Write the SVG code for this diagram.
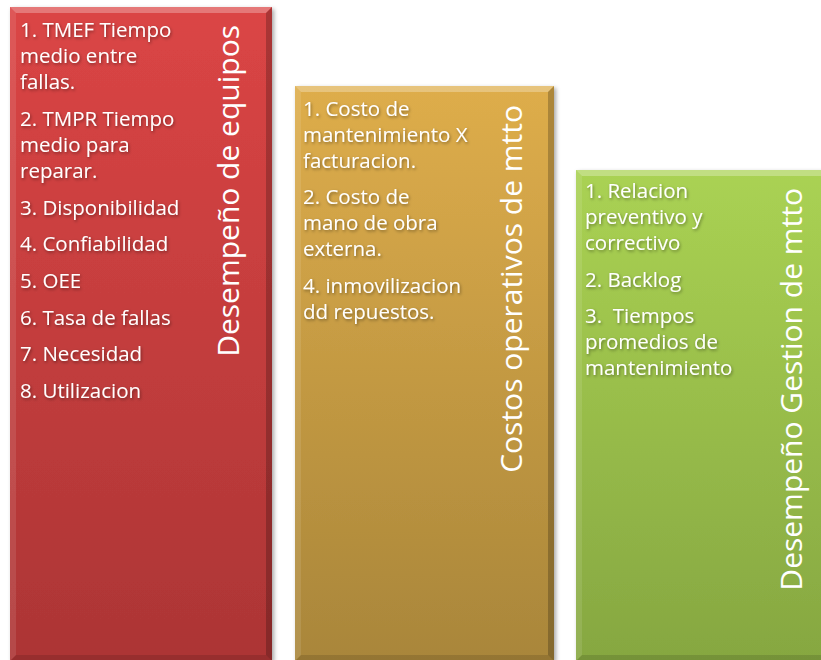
<svg xmlns="http://www.w3.org/2000/svg" width="821" height="660" viewBox="0 0 821 660">
<defs>
<linearGradient id="gRed" x1="0" y1="0" x2="0" y2="1"><stop offset="0" stop-color="#db4545"/><stop offset="1" stop-color="#ac3535"/></linearGradient>
<linearGradient id="gGold" x1="0" y1="0" x2="0" y2="1"><stop offset="0" stop-color="#dead4b"/><stop offset="1" stop-color="#a9863a"/></linearGradient>
<linearGradient id="gGreen" x1="0" y1="0" x2="0" y2="1"><stop offset="0" stop-color="#aad253"/><stop offset="1" stop-color="#86a741"/></linearGradient>
<filter id="barShadow" x="-10%" y="-5%" width="125%" height="115%">
<feDropShadow dx="2" dy="2" stdDeviation="2" flood-color="#000" flood-opacity="0.35"/>
</filter>
<filter id="txtShadow" x="-10%" y="-10%" width="130%" height="130%">
<feDropShadow dx="1" dy="1.5" stdDeviation="1.5" flood-color="#000" flood-opacity="0.4"/>
</filter>
</defs>
<style>
.list{font-family:"Open Sans","Liberation Sans",sans-serif;font-size:20.5px;fill:#ffffff;}
.title{font-family:"Open Sans","Liberation Sans",sans-serif;font-size:30px;fill:#ffffff;text-anchor:end;}
.bvT{fill:#ffffff;fill-opacity:0.28;}
.bvL{fill:#ffffff;fill-opacity:0.1;}
.bvR{fill:#000000;fill-opacity:0.22;}
.bvB{fill:#000000;fill-opacity:0.12;}
</style>
<rect x="0" y="0" width="821" height="660" fill="#ffffff"/>

<g id="node-equipos">
<rect x="10" y="7" width="262" height="654" fill="url(#gRed)" filter="url(#barShadow)"/>
<polygon class="bvT" points="10,7 272,7 266,13 16,13"/>
<polygon class="bvL" points="10,7 16,13 16,655 10,661"/>
<polygon class="bvR" points="272,7 272,661 266,655 266,13"/>
<polygon class="bvB" points="10,661 16,655 266,655 272,661"/>
<text class="list" filter="url(#txtShadow)">
<tspan x="20" y="37">1. TMEF Tiempo</tspan>
<tspan x="20" y="63">medio entre</tspan>
<tspan x="20" y="89">fallas.</tspan>
<tspan x="20" y="126">2. TMPR Tiempo</tspan>
<tspan x="20" y="152">medio para</tspan>
<tspan x="20" y="178">reparar.</tspan>
<tspan x="20" y="215">3. Disponibilidad</tspan>
<tspan x="20" y="251">4. Confiabilidad</tspan>
<tspan x="20" y="288">5. OEE</tspan>
<tspan x="20" y="325">6. Tasa de fallas</tspan>
<tspan x="20" y="361">7. Necesidad</tspan>
<tspan x="20" y="398">8. Utilizacion</tspan>
</text>
<text class="title" transform="translate(239.3,25) rotate(-90)">Desempeño de equipos</text>
</g>

<g id="node-costos">
<rect x="295" y="86" width="259" height="575" fill="url(#gGold)" filter="url(#barShadow)"/>
<polygon class="bvT" points="295,86 554,86 548,92 301,92"/>
<polygon class="bvL" points="295,86 301,92 301,655 295,661"/>
<polygon class="bvR" points="554,86 554,661 548,655 548,92"/>
<polygon class="bvB" points="295,661 301,655 548,655 554,661"/>
<text class="list" filter="url(#txtShadow)">
<tspan x="303" y="116">1. Costo de</tspan>
<tspan x="303" y="142">mantenimiento X</tspan>
<tspan x="303" y="168">facturacion.</tspan>
<tspan x="303" y="204">2. Costo de</tspan>
<tspan x="303" y="230">mano de obra</tspan>
<tspan x="303" y="256">externa.</tspan>
<tspan x="303" y="293">4. inmovilizacion</tspan>
<tspan x="303" y="319">dd repuestos.</tspan>
</text>
<text class="title" transform="translate(521.5,105) rotate(-90)">Costos operativos de mtto</text>
</g>

<g id="node-gestion">
<rect x="576" y="170" width="260" height="491" fill="url(#gGreen)" filter="url(#barShadow)"/>
<polygon class="bvT" points="576,170 836,170 830,176 582,176"/>
<polygon class="bvL" points="576,170 582,176 582,655 576,661"/>
<polygon class="bvB" points="576,661 582,655 830,655 836,661"/>
<text class="list" filter="url(#txtShadow)">
<tspan x="585" y="198">1. Relacion</tspan>
<tspan x="585" y="224">preventivo y</tspan>
<tspan x="585" y="250">correctivo</tspan>
<tspan x="585" y="287">2. Backlog</tspan>
<tspan x="585" y="323">3.&#160; Tiempos</tspan>
<tspan x="585" y="349">promedios de</tspan>
<tspan x="585" y="375">mantenimiento</tspan>
</text>
<text class="title" transform="translate(801.5,188) rotate(-90)">Desempeño Gestion de mtto</text>
</g>

<g id="connectors"></g>
</svg>
